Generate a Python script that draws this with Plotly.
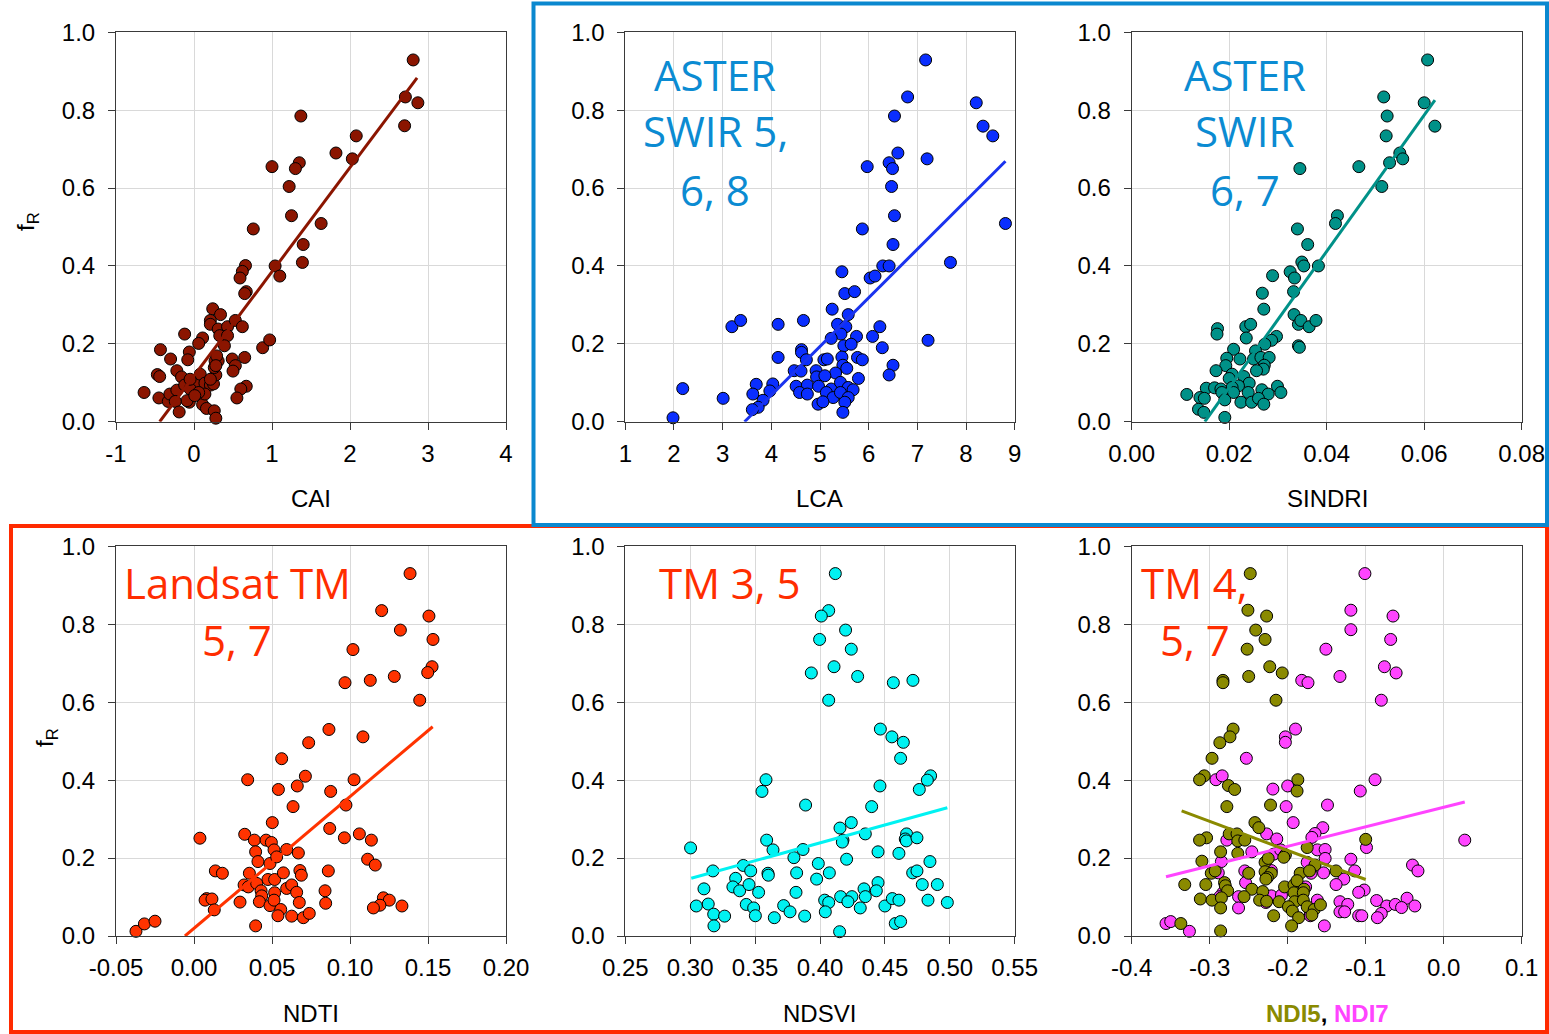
import plotly.graph_objects as go

# ---------------- data ----------------
cai_x = [2.81, 2.71, 2.87, 2.70, 1.37, 2.08, 1.82, 2.03, 1.00, 1.35,
         1.30, 1.22, 1.25, 0.76, 1.63, 1.40, 1.39, 1.04, 1.10, 0.66,
         0.62, 0.59, 0.67, 0.65, 0.24, 0.34, 0.21, 0.21, 0.31, 0.43,
         0.53, 0.62, 0.33, 0.43, 0.39, -0.12, 0.11, 0.06, -0.06, -0.08,
         -0.43, -0.30, -0.22, -0.16, -0.47, -0.44, -0.64, -0.45, -0.33, -0.31,
         -0.22, -0.12, 0.01, 0.08, 0.14, 0.21, 0.25, 0.28, 0.26, 0.27,
         0.31, 0.29, 0.28, 0.49, 0.53, 0.50, 0.65, 0.88, 0.97, 0.67,
         0.60, 0.55, -0.05, -0.06, -0.09, -0.24, -0.19, 0.11, 0.16, 0.26,
         0.28, 0.14, 0.06, 0.01, -0.05, 0.21]
cai_y = [0.929, 0.834, 0.819, 0.760, 0.785, 0.734, 0.690, 0.675, 0.655, 0.665,
         0.650, 0.604, 0.529, 0.495, 0.509, 0.455, 0.409, 0.400, 0.374, 0.401,
         0.386, 0.369, 0.334, 0.329, 0.290, 0.275, 0.260, 0.250, 0.238, 0.244,
         0.260, 0.244, 0.221, 0.221, 0.195, 0.225, 0.215, 0.201, 0.179, 0.159,
         0.185, 0.161, 0.131, 0.115, 0.121, 0.116, 0.075, 0.061, 0.052, 0.071,
         0.081, 0.094, 0.101, 0.122, 0.099, 0.094, 0.097, 0.120, 0.139, 0.156,
         0.156, 0.169, 0.144, 0.161, 0.144, 0.130, 0.165, 0.190, 0.210, 0.091,
         0.084, 0.061, 0.084, 0.050, 0.054, 0.052, 0.025, 0.044, 0.034, 0.028,
         0.009, 0.071, 0.075, 0.067, 0.109, 0.109]
cai_fit_x = [-0.44, 2.86]
cai_fit_y = [0.0, 0.883]

lca_x = [7.17, 6.80, 8.21, 6.53, 8.35, 8.55, 6.60, 7.20, 5.97, 6.42,
         6.49, 6.47, 6.53, 5.87, 8.81, 6.50, 7.68, 6.29, 6.42, 6.03,
         6.13, 5.45, 5.51, 5.71, 5.25, 5.58, 3.19, 3.37, 4.14, 4.66,
         5.36, 5.53, 6.23, 5.43, 5.23, 5.75, 6.08, 7.22, 5.49, 5.64,
         6.28, 4.62, 4.62, 4.14, 4.72, 5.08, 5.15, 5.45, 5.77, 5.87,
         5.47, 5.55, 6.50, 6.42, 4.47, 4.61, 4.92, 5.32, 5.79, 4.93,
         5.10, 3.69, 4.03, 4.51, 4.74, 4.97, 5.23, 5.42, 5.58, 5.68,
         2.18, 3.01, 1.98, 3.62, 3.97, 3.83, 3.73, 3.61, 4.58, 4.74,
         5.13, 5.27, 5.42, 5.58, 5.51, 4.96, 5.06, 5.47]
lca_y = [0.929, 0.834, 0.819, 0.785, 0.759, 0.734, 0.690, 0.675, 0.655, 0.665,
         0.650, 0.604, 0.529, 0.495, 0.509, 0.455, 0.409, 0.400, 0.400, 0.369,
         0.374, 0.385, 0.329, 0.334, 0.289, 0.275, 0.244, 0.260, 0.250, 0.260,
         0.250, 0.244, 0.244, 0.225, 0.214, 0.219, 0.219, 0.209, 0.195, 0.199,
         0.190, 0.185, 0.178, 0.165, 0.159, 0.159, 0.161, 0.166, 0.165, 0.159,
         0.145, 0.137, 0.145, 0.120, 0.131, 0.130, 0.131, 0.125, 0.111, 0.115,
         0.118, 0.096, 0.097, 0.091, 0.094, 0.091, 0.084, 0.101, 0.088, 0.082,
         0.085, 0.060, 0.010, 0.071, 0.079, 0.055, 0.037, 0.031, 0.075, 0.071,
         0.075, 0.062, 0.075, 0.062, 0.050, 0.045, 0.051, 0.024]
lca_fit_x = [3.45, 8.81]
lca_fit_y = [0.0, 0.669]

sindri_x = [0.0607, 0.0517, 0.0600, 0.0524, 0.0622, 0.0522, 0.0550, 0.0556, 0.0466, 0.0529,
            0.0345, 0.0513, 0.0422, 0.0418, 0.0340, 0.0361, 0.0349, 0.0353, 0.0383, 0.0325,
            0.0334, 0.0289, 0.0268, 0.0332, 0.0271, 0.0333, 0.0342, 0.0347, 0.0364, 0.0378,
            0.0176, 0.0175, 0.0234, 0.0244, 0.0235, 0.0297, 0.0287, 0.0342, 0.0344, 0.0273,
            0.0254, 0.0209, 0.0195, 0.0222, 0.0193, 0.0173, 0.0250, 0.0265, 0.0282, 0.0272,
            0.0270, 0.0256, 0.0206, 0.0200, 0.0230, 0.0241, 0.0219, 0.0206, 0.0153, 0.0170,
            0.0183, 0.0185, 0.0209, 0.0239, 0.0267, 0.0299, 0.0306, 0.0280, 0.0113, 0.0140,
            0.0149, 0.0137, 0.0148, 0.0191, 0.0191, 0.0224, 0.0246, 0.0260, 0.0271]
sindri_y = [0.929, 0.834, 0.819, 0.785, 0.759, 0.734, 0.690, 0.675, 0.655, 0.665,
            0.650, 0.604, 0.529, 0.509, 0.495, 0.455, 0.410, 0.400, 0.400, 0.385,
            0.369, 0.375, 0.330, 0.334, 0.289, 0.275, 0.250, 0.260, 0.244, 0.260,
            0.239, 0.225, 0.244, 0.250, 0.215, 0.219, 0.209, 0.195, 0.191, 0.199,
            0.182, 0.186, 0.163, 0.161, 0.144, 0.131, 0.161, 0.165, 0.165, 0.145,
            0.135, 0.131, 0.122, 0.111, 0.116, 0.099, 0.092, 0.088, 0.086, 0.087,
            0.084, 0.075, 0.075, 0.075, 0.082, 0.091, 0.075, 0.071, 0.070, 0.062,
            0.060, 0.032, 0.024, 0.056, 0.011, 0.050, 0.050, 0.060, 0.045]
sindri_fit_x = [0.0150, 0.0622]
sindri_fit_y = [0.0, 0.826]

ndti_x = [0.1385, 0.1203, 0.1506, 0.1323, 0.1532, 0.1019, 0.1526, 0.1498, 0.0968, 0.1130,
          0.1284, 0.1447, 0.0865, 0.1083, 0.0735, 0.0562, 0.0714, 0.0344, 0.1026, 0.0541,
          0.0662, 0.0876, 0.0635, 0.0974, 0.0502, 0.0038, 0.0325, 0.0387, 0.0462, 0.0496,
          0.0513, 0.0594, 0.0669, 0.0395, 0.0410, 0.0487, 0.0530, 0.0870, 0.0964, 0.1060,
          0.1137, 0.1113, 0.1162, 0.0137, 0.0182, 0.0355, 0.0474, 0.0517, 0.0573, 0.0679,
          0.0688, 0.0861, 0.0321, 0.0348, 0.0402, 0.0430, 0.0434, 0.0419, 0.0517, 0.0594,
          0.0626, 0.0658, 0.0675, 0.0840, 0.0844, 0.0081, 0.0071, 0.0115, 0.0130, 0.0295,
          0.0487, 0.0513, 0.0556, 0.0538, 0.0626, 0.0701, 0.0739, 0.0395, 0.1214, 0.1252,
          0.1192, 0.1150, 0.1333, -0.0372, -0.0318, -0.0250]
ndti_y = [0.930, 0.835, 0.821, 0.785, 0.761, 0.735, 0.691, 0.676, 0.650, 0.656,
          0.666, 0.605, 0.530, 0.511, 0.496, 0.455, 0.410, 0.401, 0.401, 0.376,
          0.385, 0.371, 0.332, 0.336, 0.291, 0.251, 0.261, 0.246, 0.246, 0.240,
          0.221, 0.222, 0.213, 0.216, 0.191, 0.186, 0.203, 0.276, 0.252, 0.262,
          0.246, 0.197, 0.182, 0.167, 0.161, 0.161, 0.145, 0.145, 0.162, 0.168,
          0.156, 0.167, 0.131, 0.126, 0.135, 0.116, 0.103, 0.088, 0.111, 0.122,
          0.131, 0.112, 0.086, 0.116, 0.084, 0.096, 0.092, 0.095, 0.067, 0.087,
          0.078, 0.092, 0.068, 0.052, 0.051, 0.047, 0.058, 0.026, 0.098, 0.092,
          0.079, 0.072, 0.077, 0.012, 0.031, 0.038]
ndti_fit_x = [-0.0058, 0.153]
ndti_fit_y = [0.0, 0.537]

ndsvi_x = [0.4118, 0.4067, 0.4010, 0.4197, 0.3997, 0.4241, 0.4108, 0.3933, 0.4290, 0.4565,
           0.4716, 0.4067, 0.4465, 0.4554, 0.4642, 0.4621, 0.4852, 0.4827, 0.3584, 0.3553,
           0.4765, 0.4462, 0.3889, 0.4398, 0.4241, 0.4154, 0.4349, 0.4177, 0.4172, 0.4667,
           0.4657, 0.4665, 0.4747, 0.3003, 0.3589, 0.3638, 0.3869, 0.3799, 0.4205, 0.4447,
           0.4608, 0.4847, 0.3409, 0.3466, 0.3175, 0.3599, 0.3602, 0.3820, 0.3987, 0.4072,
           0.3974, 0.4714, 0.4747, 0.3350, 0.3329, 0.3381, 0.3453, 0.3527, 0.3815, 0.3106,
           0.4788, 0.4904, 0.4447, 0.4434, 0.4339, 0.4349, 0.4159, 0.4246, 0.4215, 0.4036,
           0.4067, 0.4041, 0.4310, 0.4500, 0.4557, 0.4608, 0.4832, 0.4981, 0.3047, 0.3139,
           0.3181, 0.3183, 0.3265, 0.3432, 0.3489, 0.3502, 0.3648, 0.3720, 0.3769, 0.3882,
           0.4151, 0.4580, 0.4621]
ndsvi_y = [0.930, 0.835, 0.821, 0.785, 0.761, 0.736, 0.691, 0.675, 0.666, 0.650,
           0.656, 0.605, 0.531, 0.511, 0.497, 0.456, 0.411, 0.400, 0.401, 0.371,
           0.376, 0.385, 0.336, 0.332, 0.291, 0.277, 0.262, 0.246, 0.241, 0.262,
           0.249, 0.244, 0.252, 0.226, 0.246, 0.221, 0.222, 0.201, 0.197, 0.216,
           0.212, 0.191, 0.181, 0.167, 0.167, 0.161, 0.156, 0.162, 0.186, 0.162,
           0.146, 0.162, 0.167, 0.148, 0.126, 0.116, 0.132, 0.112, 0.112, 0.121,
           0.132, 0.132, 0.137, 0.116, 0.121, 0.101, 0.101, 0.101, 0.088, 0.092,
           0.086, 0.062, 0.072, 0.077, 0.096, 0.092, 0.092, 0.086, 0.077, 0.082,
           0.056, 0.026, 0.051, 0.081, 0.072, 0.052, 0.047, 0.078, 0.062, 0.051,
           0.011, 0.032, 0.037]
ndsvi_fit_x = [0.3008, 0.4981]
ndsvi_fit_y = [0.148, 0.329]

ndi5_x = [-0.248, -0.251, -0.227, -0.241, -0.229, -0.252, -0.223, -0.207, -0.250, -0.283,
          -0.283, -0.215, -0.270, -0.274, -0.287, -0.297, -0.307, -0.313, -0.187, -0.188,
          -0.276, -0.268, -0.222, -0.278, -0.242, -0.237, -0.275, -0.265, -0.264, -0.255,
          -0.304, -0.313, -0.100, -0.286, -0.264, -0.203, -0.175, -0.310, -0.229, -0.225,
          -0.205, -0.165, -0.298, -0.293, -0.250, -0.229, -0.221, -0.226, -0.228, -0.184,
          -0.172, -0.138, -0.332, -0.305, -0.281, -0.280, -0.277, -0.246, -0.232, -0.204,
          -0.192, -0.192, -0.188, -0.179, -0.180, -0.312, -0.297, -0.285, -0.256, -0.236,
          -0.227, -0.211, -0.191, -0.180, -0.286, -0.199, -0.194, -0.186, -0.175, -0.166,
          -0.158, -0.218, -0.169, -0.337, -0.195, -0.286]
ndi5_y = [0.930, 0.836, 0.821, 0.785, 0.761, 0.736, 0.691, 0.675, 0.666, 0.656,
          0.650, 0.605, 0.531, 0.511, 0.496, 0.456, 0.411, 0.401, 0.401, 0.372,
          0.386, 0.376, 0.336, 0.332, 0.291, 0.278, 0.262, 0.262, 0.244, 0.246,
          0.252, 0.246, 0.248, 0.216, 0.212, 0.208, 0.227, 0.192, 0.189, 0.199,
          0.202, 0.182, 0.161, 0.167, 0.161, 0.165, 0.161, 0.150, 0.146, 0.161,
          0.167, 0.167, 0.132, 0.132, 0.137, 0.129, 0.116, 0.120, 0.114, 0.126,
          0.131, 0.111, 0.142, 0.120, 0.111, 0.095, 0.092, 0.098, 0.101, 0.092,
          0.089, 0.088, 0.088, 0.092, 0.072, 0.075, 0.064, 0.047, 0.075, 0.068,
          0.080, 0.052, 0.054, 0.032, 0.026, 0.013]
ndi5_fit_x = [-0.336, -0.100]
ndi5_fit_y = [0.321, 0.145]

ndi7_x = [-0.101, -0.119, -0.065, -0.119, -0.068, -0.151, -0.076, -0.061, -0.133, -0.182,
          -0.174, -0.080, -0.190, -0.203, -0.203, -0.253, -0.292, -0.284, -0.088, -0.219,
          -0.200, -0.107, -0.202, -0.149, -0.193, -0.155, -0.227, -0.214, -0.165, -0.169,
          -0.278, 0.027, -0.162, -0.152, -0.099, -0.246, -0.218, -0.209, -0.285, -0.175,
          -0.152, -0.119, -0.040, -0.033, -0.114, -0.154, -0.289, -0.255, -0.221, -0.170,
          -0.128, -0.138, -0.254, -0.177, -0.102, -0.109, -0.283, -0.287, -0.263, -0.221,
          -0.208, -0.228, -0.162, -0.133, -0.123, -0.086, -0.073, -0.062, -0.047, -0.054,
          -0.037, -0.263, -0.171, -0.133, -0.127, -0.080, -0.085, -0.109, -0.105, -0.171,
          -0.153, -0.356, -0.350, -0.326]
ndi7_y = [0.930, 0.836, 0.821, 0.786, 0.761, 0.736, 0.691, 0.675, 0.666, 0.656,
          0.650, 0.605, 0.531, 0.511, 0.497, 0.456, 0.401, 0.411, 0.401, 0.377,
          0.385, 0.372, 0.332, 0.336, 0.291, 0.278, 0.262, 0.249, 0.263, 0.253,
          0.246, 0.246, 0.221, 0.222, 0.227, 0.216, 0.210, 0.221, 0.191, 0.189,
          0.199, 0.197, 0.182, 0.167, 0.167, 0.162, 0.162, 0.167, 0.168, 0.161,
          0.146, 0.132, 0.137, 0.126, 0.118, 0.112, 0.111, 0.101, 0.101, 0.103,
          0.105, 0.086, 0.092, 0.088, 0.081, 0.091, 0.077, 0.081, 0.097, 0.073,
          0.077, 0.072, 0.062, 0.062, 0.062, 0.058, 0.047, 0.052, 0.052, 0.052,
          0.026, 0.032, 0.037, 0.012]
ndi7_fit_x = [-0.356, 0.027]
ndi7_fit_y = [0.152, 0.344]

# tick labels
fr_ticks = [0.0, 0.2, 0.4, 0.6, 0.8, 1.0]
fr_ticktext = ["0.0", "0.2", "0.4", "0.6", "0.8", "1.0"]
cai_ticks = [-1, 0, 1, 2, 3, 4]
cai_ticktext = ["-1", "0", "1", "2", "3", "4"]
lca_ticks = [1, 2, 3, 4, 5, 6, 7, 8, 9]
lca_ticktext = ["1", "2", "3", "4", "5", "6", "7", "8", "9"]
sindri_ticks = [0.0, 0.02, 0.04, 0.06, 0.08]
sindri_ticktext = ["0.00", "0.02", "0.04", "0.06", "0.08"]
ndti_ticks = [-0.05, 0.0, 0.05, 0.10, 0.15, 0.20]
ndti_ticktext = ["-0.05", "0.00", "0.05", "0.10", "0.15", "0.20"]
ndsvi_ticks = [0.25, 0.30, 0.35, 0.40, 0.45, 0.50, 0.55]
ndsvi_ticktext = ["0.25", "0.30", "0.35", "0.40", "0.45", "0.50", "0.55"]
ndi_ticks = [-0.4, -0.3, -0.2, -0.1, 0.0, 0.1]
ndi_ticktext = ["-0.4", "-0.3", "-0.2", "-0.1", "0.0", "0.1"]

# ---------------- layout helpers ----------------
W, H = 1549, 1034
COLS = [(116, 506), (625.3, 1014.7), (1131.7, 1521.7)]
ROWS = [(32.3, 421.7), (546.3, 936)]

TICK_FONT = dict(family="Liberation Sans, Arial, sans-serif", size=24, color="black")
BLUE_TXT = "#0B8BD2"
RED_TXT = "#FF2D00"
LABEL_FONT = "Open Sans, sans-serif"
LABEL_SIZE = 42


def xdom(c):
    return [COLS[c][0] / W, COLS[c][1] / W]


def ydom(r):
    return [1 - ROWS[r][1] / H, 1 - ROWS[r][0] / H]


def px(xp):
    return xp / W


def py(yp):
    return 1 - yp / H


axis_style = dict(
    showgrid=True, gridcolor="#D9D9D9", gridwidth=1, zeroline=False,
    showline=True, linecolor="#3A3A3A", linewidth=1, mirror=True,
    ticks="outside", ticklen=7, tickwidth=1, tickcolor="#3A3A3A",
    tickfont=TICK_FONT, fixedrange=True, automargin=False,
)

panels = [
    # (row, col, x range, tick values, tick text)
    (0, 0, [-1, 4], cai_ticks, cai_ticktext),
    (0, 1, [1, 9], lca_ticks, lca_ticktext),
    (0, 2, [0, 0.08], sindri_ticks, sindri_ticktext),
    (1, 0, [-0.05, 0.20], ndti_ticks, ndti_ticktext),
    (1, 1, [0.25, 0.55], ndsvi_ticks, ndsvi_ticktext),
    (1, 2, [-0.4, 0.1], ndi_ticks, ndi_ticktext),
]

fig = go.Figure()
layout_axes = {}
for i, (r, c, xr, tv, tt) in enumerate(panels):
    n = "" if i == 0 else str(i + 1)
    layout_axes["xaxis" + n] = dict(axis_style, domain=xdom(c), range=xr,
                                    tickvals=tv, ticktext=tt,
                                    ticklabelstandoff=3,
                                    anchor="y" + n)
    layout_axes["yaxis" + n] = dict(axis_style, domain=ydom(r), range=[0, 1],
                                    tickvals=fr_ticks, ticktext=fr_ticktext,
                                    ticklabelstandoff=8,
                                    anchor="x" + n)


def add_points(x, y, color, axis_n):
    fig.add_trace(go.Scatter(
        x=x, y=y, mode="markers", xaxis="x" + axis_n, yaxis="y" + axis_n,
        marker=dict(size=12, color=color, line=dict(color="black", width=1)),
        cliponaxis=False, showlegend=False, hoverinfo="x+y"))


def add_fit(x, y, color, axis_n):
    fig.add_trace(go.Scatter(
        x=x, y=y, mode="lines", xaxis="x" + axis_n, yaxis="y" + axis_n,
        line=dict(color=color, width=3), showlegend=False, hoverinfo="skip"))


add_points(cai_x, cai_y, "#8B1500", "")
add_fit(cai_fit_x, cai_fit_y, "#8B1500", "")

add_points(lca_x, lca_y, "#0A2EFF", "2")
add_fit(lca_fit_x, lca_fit_y, "#1A33EE", "2")

add_points(sindri_x, sindri_y, "#009188", "3")
add_fit(sindri_fit_x, sindri_fit_y, "#009188", "3")

add_points(ndti_x, ndti_y, "#FF3300", "4")
add_fit(ndti_fit_x, ndti_fit_y, "#FF3300", "4")

add_points(ndsvi_x, ndsvi_y, "#00F2F2", "5")
add_fit(ndsvi_fit_x, ndsvi_fit_y, "#00F2F2", "5")

add_points(ndi7_x, ndi7_y, "#FF44FF", "6")
add_points(ndi5_x, ndi5_y, "#8A8A00", "6")
add_fit(ndi7_fit_x, ndi7_fit_y, "#FF44FF", "6")
add_fit(ndi5_fit_x, ndi5_fit_y, "#8A8A00", "6")

annotations = []


def text_at(x, y, text, size, color, family=LABEL_FONT, angle=0, xanchor="center"):
    annotations.append(dict(
        x=px(x), y=py(y), xref="paper", yref="paper", text=text,
        showarrow=False, xanchor=xanchor, yanchor="middle", textangle=angle,
        font=dict(family=family, size=size, color=color)))


AX_FONT = "Liberation Sans, Arial, sans-serif"
# axis titles
text_at(311, 498, "CAI", 24, "black", AX_FONT)
text_at(820, 498, "LCA", 24, "black", AX_FONT)
text_at(1327, 498, "SINDRI", 24, "black", AX_FONT)
text_at(311, 1013, "NDTI", 24, "black", AX_FONT)
text_at(820, 1013, "NDSVI", 24, "black", AX_FONT)
text_at(1327, 1013,
        "<b><span style='color:#8A8A00'>NDI5</span>, "
        "<span style='color:#FF44FF'>NDI7</span></b>", 24, "black", AX_FONT)
text_at(27, 222, "f<sub>R</sub>", 24, "black", AX_FONT, angle=-90)
text_at(46, 738, "f<sub>R</sub>", 24, "black", AX_FONT, angle=-90)

# sensor labels
text_at(715, 74, "ASTER", LABEL_SIZE, BLUE_TXT)
text_at(715, 130, "SWIR 5,", LABEL_SIZE, BLUE_TXT)
text_at(715, 189, "6, 8", LABEL_SIZE, BLUE_TXT)
text_at(1245, 74, "ASTER", LABEL_SIZE, BLUE_TXT)
text_at(1245, 130, "SWIR", LABEL_SIZE, BLUE_TXT)
text_at(1245, 189, "6, 7", LABEL_SIZE, BLUE_TXT)
text_at(237, 582, "Landsat TM", LABEL_SIZE, RED_TXT)
text_at(237, 639, "5, 7", LABEL_SIZE, RED_TXT)
text_at(730, 582, "TM 3, 5", LABEL_SIZE, RED_TXT)
text_at(1194, 582, "TM 4,", LABEL_SIZE, RED_TXT)
text_at(1195, 639, "5, 7", LABEL_SIZE, RED_TXT)

# sensor group frames
shapes = [
    dict(type="rect", xref="paper", yref="paper",
         x0=px(11), x1=px(1547), y0=py(1032), y1=py(526),
         line=dict(color="#FF2A00", width=4), layer="above"),
    dict(type="rect", xref="paper", yref="paper",
         x0=px(533.5), x1=px(1547), y0=py(525), y1=py(3.5),
         line=dict(color="#0A88CF", width=4), layer="above"),
]

fig.update_layout(
    width=W, height=H,
    margin=dict(l=0, r=0, t=0, b=0, autoexpand=False),
    paper_bgcolor="white", plot_bgcolor="white",
    showlegend=False,
    annotations=annotations, shapes=shapes,
    **layout_axes,
)

fig.write_html("out.html")
